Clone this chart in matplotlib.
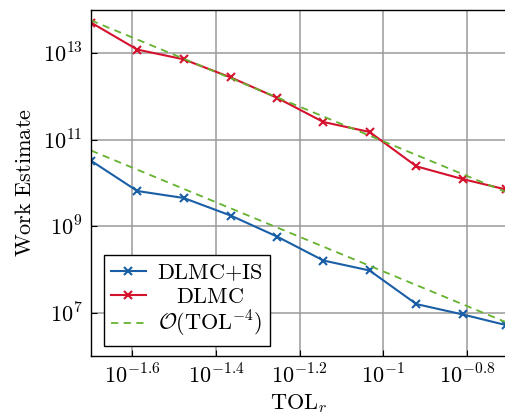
import numpy as np
import matplotlib
matplotlib.use("Agg")
import matplotlib.pyplot as plt
from matplotlib.ticker import FixedLocator, NullLocator

plt.rcParams['mathtext.fontset'] = 'cm'
plt.rcParams['font.family'] = ['DejaVu Serif']

# ---- data ----
tol = [0.0200, 0.0258, 0.0333, 0.0432, 0.0557, 0.0719, 0.0927, 0.1200, 0.1549, 0.1965]
work_dlmc = [10**13.71, 10**13.085, 10**12.86, 10**12.44, 10**11.97,
             10**11.41, 10**11.18, 10**10.385, 10**10.09, 10**9.85]
work_dlmc_is = [10**10.515, 10**9.815, 10**9.654, 10**9.246, 10**8.762,
                10**8.208, 10**7.977, 10**7.20, 10**6.96, 10**6.715]
ref_const_dlmc = 10**6.964
ref_const_is = 10**3.955
ref_rate = -4

xtick_vals = [10**-1.6, 10**-1.4, 10**-1.2, 10**-1.0, 10**-0.8]
xtick_labels = [r'$10^{-1.6}$', r'$10^{-1.4}$', r'$10^{-1.2}$', r'$10^{-1}$', r'$10^{-0.8}$']
ytick_vals = [1e7, 1e9, 1e11, 1e13]
ytick_labels = [r'$10^{7}$', r'$10^{9}$', r'$10^{11}$', r'$10^{13}$']
labels = [r'$\mathrm{DLMC{+}IS}$', r'$\mathrm{DLMC}$', r'$\mathcal{O}(\mathrm{TOL}^{-4})$']

blue = '#1a5fa6'
red = '#d4122d'
green = '#64b22e'

W, H = 505, 415
fig = plt.figure(figsize=(W/100, H/100), dpi=100)
ax = fig.add_axes([91/W, 1-356/H, (506-91)/W, (356-10)/H])

tol_a = np.array(tol)
l1, = ax.plot(tol, work_dlmc_is, color=blue, lw=1.5, marker='x', ms=5.5, mew=1.5)
l2, = ax.plot(tol, work_dlmc, color=red, lw=1.5, marker='x', ms=5.5, mew=1.5)
l3, = ax.plot(tol, ref_const_is * tol_a**ref_rate, color=green, lw=1.3, ls=(0, (4, 3)))
ax.plot(tol, ref_const_dlmc * tol_a**ref_rate, color=green, lw=1.3, ls=(0, (4, 3)))

ax.set_xscale('log')
ax.set_yscale('log')
ax.set_xlim(tol[0], tol[-1])
ax.set_ylim(1e6, 1e14)
ax.xaxis.set_major_locator(FixedLocator(xtick_vals))
ax.set_xticklabels(xtick_labels)
ax.xaxis.set_minor_locator(NullLocator())
ax.yaxis.set_major_locator(FixedLocator(ytick_vals))
ax.set_yticklabels(ytick_labels)
ax.yaxis.set_minor_locator(NullLocator())
ax.tick_params(direction='in', length=4, width=0.8, labelsize=16, pad=6,
               top=False, right=False)
ax.grid(True, color='#9a9a9a', lw=1.1)
ax.set_axisbelow(True)
for s in ax.spines.values():
    s.set_linewidth(1.0)
    s.set_color('black')

ax.set_xlabel(r'$\mathrm{TOL}_r$', fontsize=16, labelpad=3)
ax.set_ylabel(r'$\mathrm{Work\ Estimate}$', fontsize=16, labelpad=5)

leg = ax.legend([l1, l2, l3], labels, loc='lower left',
                bbox_to_anchor=(13/415, 10/346), borderaxespad=0,
                fontsize=16, fancybox=False, framealpha=1, edgecolor='black',
                handlelength=1.6, handletextpad=0.5, labelspacing=0.08,
                borderpad=0.3)
leg.get_frame().set_linewidth(1.0)

fig.canvas.draw()
r = fig.canvas.get_renderer()
texts = leg.get_texts()
widths = [t.get_window_extent(r).width for t in texts]
mw = max(widths)
for t, w in zip(texts, widths):
    t.set_position(((mw - w) / 2, 0))

fig.savefig('out.png', dpi=100)
